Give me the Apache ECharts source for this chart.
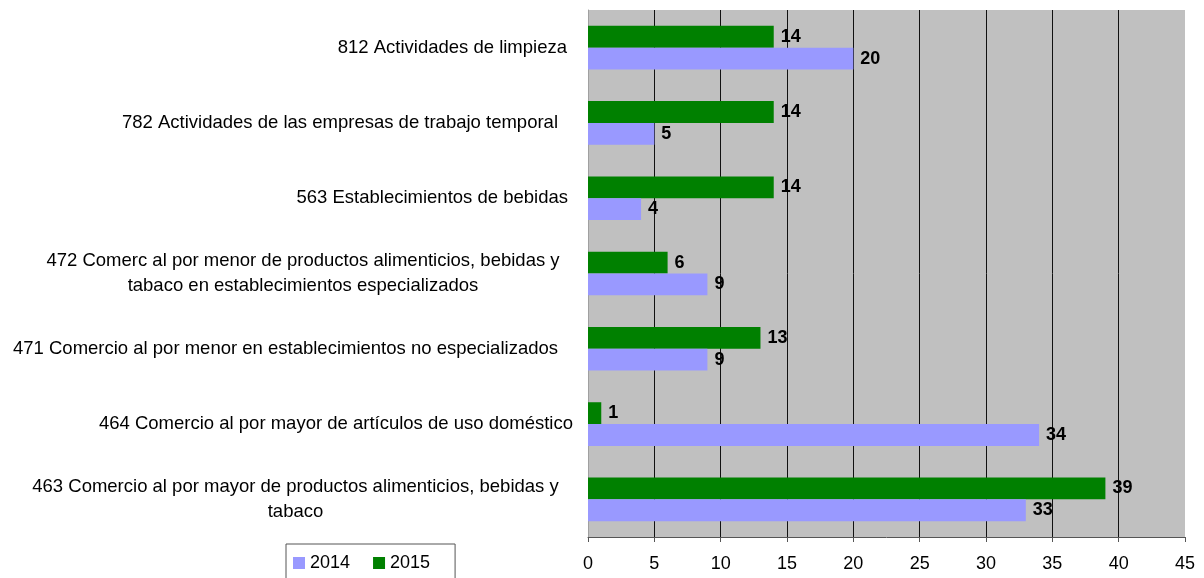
<!DOCTYPE html>
<html>
<head>
<meta charset="utf-8">
<script src="https://cdn.jsdelivr.net/npm/echarts@6/dist/echarts.min.js"></script>
<style>
  html, body { margin: 0; padding: 0; background: #fff; }
  #chart { width: 1204px; height: 578px; }
</style>
</head>
<body>
<div id="chart"></div>
<script>
// Activity categories, listed bottom to top as the category axis draws them
const categories = [
  '463 Comercio al por mayor de productos alimenticios, bebidas y\ntabaco',
  '464 Comercio al por mayor de artículos de uso doméstico',
  '471 Comercio al por menor en establecimientos no especializados',
  '472 Comerc al por menor de productos alimenticios, bebidas y\ntabaco en establecimientos especializados',
  '563 Establecimientos de bebidas',
  '782 Actividades de las empresas de trabajo temporal',
  '812 Actividades de limpieza'
];
const values2014 = [33, 34, 9, 9, 4, 5, 20];
const values2015 = [39, 1, 13, 6, 14, 14, 14];
const seriesNames = ['2014', '2015'];

// Extra right-hand spacing of each category label (px)
const labelGap = [15, 1, 16, 14, 6, 16, 7];

const FONT = '"Liberation Sans", Arial, Helvetica, sans-serif';
const CAT_SIZE = 18.5;
const ctx = document.createElement('canvas').getContext('2d');
ctx.font = CAT_SIZE + 'px ' + FONT;
const measure = s => ctx.measureText(s).width;

// Build rich label styles: wrapped labels get centred lines within the block
const rich = {};
const labelMarkup = categories.map((cat, i) => {
  const lines = cat.split('\n');
  rich['g' + i] = { width: labelGap[i], fontSize: CAT_SIZE, fontFamily: FONT };
  const base = { fontSize: CAT_SIZE, fontFamily: FONT, color: '#000', lineHeight: 25 };
  if (lines.length > 1) {
    const w = Math.ceil(Math.max(...lines.map(measure)));
    rich['c' + i] = Object.assign({ width: w, align: 'center' }, base);
    return lines.map(l => '{c' + i + '|' + l + '}{g' + i + '| }').join('\n');
  }
  rich['c' + i] = base;
  return '{c' + i + '|' + cat + '}{g' + i + '| }';
});

const chart = echarts.init(document.getElementById('chart'), null, { renderer: 'canvas' });

const valueLabel = {
  show: true,
  position: 'right',
  distance: 7,
  color: '#000',
  fontWeight: 'bold',
  fontSize: 18,
  fontFamily: FONT
};

chart.setOption({
  animation: false,
  textStyle: { fontFamily: FONT },
  grid: {
    left: 588,
    right: 19,
    top: 10,
    bottom: 41,
    show: true,
    backgroundColor: '#C0C0C0',
    borderWidth: 0
  },
  legend: {
    data: seriesNames,
    left: 286,
    top: 544,
    orient: 'horizontal',
    icon: 'rect',
    itemWidth: 12,
    itemHeight: 12,
    itemGap: 23,
    padding: [10, 25, 20, 7],
    borderColor: '#555',
    borderWidth: 1,
    textStyle: { fontSize: 18, color: '#000', fontFamily: FONT }
  },
  xAxis: {
    type: 'value',
    min: 0,
    max: 45,
    interval: 5,
    axisLine: { show: true, lineStyle: { color: '#555', width: 1 } },
    axisTick: { show: true, length: 5, lineStyle: { color: '#555' } },
    axisLabel: { fontSize: 18, color: '#000', margin: 18, fontFamily: FONT },
    splitLine: {
      show: true,
      showMinLine: false,
      showMaxLine: false,
      lineStyle: { color: '#111', width: 1 }
    }
  },
  yAxis: {
    type: 'category',
    data: categories,
    axisLine: { show: true, lineStyle: { color: '#a0a0a0' } },
    axisTick: { show: false },
    splitLine: { show: false },
    axisLabel: {
      margin: 14,
      fontSize: CAT_SIZE,
      color: '#000',
      fontFamily: FONT,
      interval: 0,
      formatter: (v, idx) => labelMarkup[idx],
      rich: rich
    }
  },
  // 2015 is listed first so its bar sits above the 2014 bar in each band
  series: [
    {
      name: seriesNames[1],
      type: 'bar',
      data: values2015,
      itemStyle: { color: '#008000' },
      barGap: '0%',
      barCategoryGap: '42%',
      label: valueLabel
    },
    {
      name: seriesNames[0],
      type: 'bar',
      data: values2014,
      itemStyle: { color: '#9999FF' },
      barGap: '0%',
      barCategoryGap: '42%',
      label: valueLabel
    }
  ]
});
</script>
</body>
</html>
